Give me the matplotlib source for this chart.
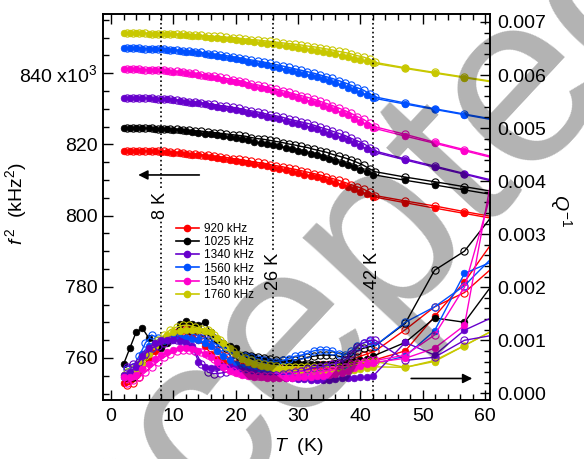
import numpy as np
import matplotlib
matplotlib.use('Agg')
import matplotlib.pyplot as plt
from matplotlib.lines import Line2D
from matplotlib.ticker import MultipleLocator, FormatStrFormatter, FuncFormatter

plt.rcParams['font.family'] = ['Liberation Sans', 'DejaVu Sans']
plt.rcParams['mathtext.fontset'] = 'custom'
plt.rcParams['mathtext.rm'] = 'Liberation Sans'
plt.rcParams['mathtext.it'] = 'Liberation Sans:italic'

# temperatures (K): dense scan every 1 K, then a few points every ~5 K
T_fill = list(range(2, 43)) + [47.2, 51.9, 56.7, 61.5]
T_open = [t + 0.5 for t in range(2, 42)] + [42.4, 47.2, 51.9, 56.7, 61.5]

labels = ['920 kHz', '1025 kHz', '1340 kHz', '1560 kHz', '1540 kHz', '1760 kHz']
colors = ['#ff0000', '#000000', '#6600cc', '#0050ff', '#ff00cc', '#c8c800']

# f^2 in 10^3 kHz^2, filled and open symbols
f2_red = [818.2, 818.2, 818.2, 818.1, 818.1, 818.0, 817.9, 817.8, 817.7, 817.5,
          817.3, 817.1, 816.9, 816.7, 816.4, 816.1, 815.9, 815.6, 815.4, 815.0,
          814.7, 814.4, 814.1, 813.8, 813.4, 813.0, 812.7, 812.3, 811.9, 811.5,
          811.1, 810.7, 810.2, 809.7, 809.2, 808.6, 808.0, 807.4, 806.7, 806.0, 805.3,
          803.6, 802.1, 800.6, 799.1]
f2_red_open = [818.2, 818.2, 818.2, 818.1, 818.1, 818.0, 818.0, 817.9, 817.8, 817.6,
               817.4, 817.3, 817.1, 816.9, 816.7, 816.5, 816.3, 816.0, 815.8, 815.5,
               815.2, 814.9, 814.7, 814.3, 814.0, 813.7, 813.3, 813.0, 812.6, 812.2,
               811.8, 811.4, 810.9, 810.4, 809.9, 809.3, 808.7, 808.1, 807.4, 806.5,
               805.6, 804.1, 802.7, 801.1, 799.6]
f2_black = [824.6, 824.6, 824.6, 824.5, 824.5, 824.4, 824.3, 824.2, 824.1, 823.9,
            823.7, 823.5, 823.3, 823.0, 822.8, 822.5, 822.2, 822.0, 821.7, 821.4,
            821.1, 820.7, 820.4, 820.1, 819.8, 819.4, 819.0, 818.6, 818.2, 817.8,
            817.4, 816.9, 816.5, 816.0, 815.4, 814.8, 814.3, 813.6, 812.9, 812.2, 811.5,
            809.9, 808.6, 807.2, 805.8]
f2_black_open = [824.6, 824.6, 824.6, 824.5, 824.5, 824.4, 824.4, 824.3, 824.3, 824.1,
                 823.9, 823.8, 823.7, 823.5, 823.3, 823.1, 822.9, 822.7, 822.5, 822.3,
                 821.9, 821.6, 821.4, 821.1, 820.8, 820.5, 820.1, 819.8, 819.4, 819.1,
                 818.6, 818.2, 817.8, 817.2, 816.7, 816.2, 815.6, 814.9, 814.1, 813.1,
                 812.3, 810.8, 809.5, 808.1, 806.7]
f2_purple = [833.0, 833.0, 833.0, 832.9, 832.9, 832.8, 832.7, 832.6, 832.4, 832.2,
             831.9, 831.7, 831.5, 831.2, 830.9, 830.6, 830.3, 830.0, 829.7, 829.3,
             828.9, 828.6, 828.2, 827.8, 827.4, 827.0, 826.5, 826.1, 825.6, 825.2,
             824.7, 824.2, 823.6, 823.0, 822.4, 821.8, 821.1, 820.3, 819.6, 818.7, 817.9,
             815.6, 813.6, 811.6, 809.5]
f2_purple_open = [833.0, 833.0, 833.0, 832.9, 832.9, 832.8, 832.8, 832.6, 832.5, 832.3,
                  832.0, 831.9, 831.7, 831.4, 831.2, 830.9, 830.7, 830.4, 830.1, 829.7,
                  829.4, 829.1, 828.7, 828.3, 828.0, 827.6, 827.1, 826.7, 826.3, 825.9,
                  825.4, 824.8, 824.3, 823.7, 823.1, 822.5, 821.7, 821.0, 820.2, 819.1,
                  818.1, 815.9, 813.9, 811.8, 809.8]
f2_blue = [847.0, 847.0, 847.0, 846.9, 846.9, 846.8, 846.7, 846.6, 846.4, 846.2,
           846.0, 845.8, 845.6, 845.3, 845.0, 844.8, 844.5, 844.2, 843.9, 843.6,
           843.2, 842.9, 842.5, 842.2, 841.8, 841.4, 841.0, 840.6, 840.1, 839.7,
           839.3, 838.8, 838.3, 837.8, 837.2, 836.6, 835.9, 835.2, 834.5, 833.8, 833.0,
           831.3, 829.8, 828.3, 826.8]
f2_blue_open = [847.0, 847.0, 847.0, 846.9, 846.9, 846.8, 846.8, 846.6, 846.5, 846.3,
                846.1, 846.0, 845.8, 845.5, 845.3, 845.1, 844.9, 844.6, 844.3, 844.0,
                843.7, 843.4, 843.1, 842.7, 842.4, 842.0, 841.6, 841.2, 840.8, 840.4,
                840.0, 839.5, 839.0, 838.5, 837.9, 837.3, 836.6, 835.9, 835.2, 834.2,
                833.3, 831.6, 830.0, 828.5, 827.0]
f2_magenta = [841.1, 841.1, 841.1, 841.0, 840.9, 840.9, 840.8, 840.6, 840.4, 840.2,
              839.9, 839.7, 839.5, 839.1, 838.8, 838.5, 838.1, 837.8, 837.5, 837.1,
              836.6, 836.2, 835.8, 835.4, 835.0, 834.5, 834.0, 833.5, 833.0, 832.5,
              832.0, 831.5, 830.9, 830.2, 829.6, 828.8, 828.1, 827.2, 826.4, 825.5, 824.6,
              822.3, 820.3, 818.2, 816.1]
f2_magenta_open = [841.1, 841.1, 841.1, 841.0, 840.9, 840.9, 840.8, 840.6, 840.5, 840.3,
                   840.0, 839.9, 839.6, 839.3, 839.1, 838.8, 838.5, 838.2, 837.9, 837.5,
                   837.0, 836.7, 836.3, 835.9, 835.5, 835.1, 834.6, 834.1, 833.7, 833.2,
                   832.7, 832.1, 831.5, 830.9, 830.2, 829.5, 828.7, 827.8, 827.0, 825.9,
                   824.9, 822.8, 820.6, 818.5, 816.4]
f2_yellow = [851.2, 851.2, 851.2, 851.2, 851.1, 851.1, 851.0, 850.9, 850.9, 850.7,
             850.6, 850.5, 850.4, 850.2, 850.0, 849.9, 849.7, 849.5, 849.4, 849.1,
             848.9, 848.7, 848.5, 848.3, 848.1, 847.8, 847.6, 847.3, 847.1, 846.8,
             846.6, 846.3, 846.0, 845.7, 845.3, 844.9, 844.6, 844.1, 843.7, 843.3, 842.8,
             841.3, 840.0, 838.7, 837.4]
f2_yellow_open = [851.2, 851.2, 851.2, 851.2, 851.1, 851.1, 851.0, 851.0, 851.0, 850.9,
                  850.8, 850.7, 850.6, 850.5, 850.3, 850.3, 850.1, 850.0, 849.8, 849.6,
                  849.4, 849.3, 849.1, 848.9, 848.7, 848.5, 848.3, 848.1, 847.9, 847.6,
                  847.4, 847.1, 846.8, 846.5, 846.1, 845.8, 845.4, 844.9, 844.5, 843.9,
                  843.0, 841.5, 840.2, 838.9, 837.6]

# Q^-1 in units of 10^-3
q_red = [0.20, 0.25, 0.35, 0.50, 0.65, 0.80, 0.90, 1.00, 1.08, 1.15,
         1.18, 1.10, 1.00, 0.90, 0.75, 0.65, 0.60, 0.60, 0.55, 0.50,
         0.48, 0.46, 0.45, 0.44, 0.43, 0.42, 0.42, 0.42, 0.43, 0.44,
         0.44, 0.45, 0.45, 0.46, 0.47, 0.48, 0.50, 0.55, 0.58, 0.60, 0.62,
         0.80, 1.45, 2.10, 2.90]
q_red_open = [0.15, 0.20, 0.30, 0.50, 0.70, 0.85, 0.95, 1.05, 1.15, 1.25,
              1.25, 1.20, 1.10, 1.00, 0.90, 0.80, 0.70, 0.62, 0.58, 0.55,
              0.52, 0.50, 0.50, 0.48, 0.48, 0.47, 0.47, 0.48, 0.50, 0.50,
              0.52, 0.53, 0.54, 0.55, 0.56, 0.58, 0.62, 0.68, 0.72, 0.76,
              0.80, 1.20, 1.63, 1.90, 2.40]
q_black = [0.55, 0.85, 1.15, 1.23, 1.05, 0.95, 0.85, 0.95, 1.05, 1.30,
           1.36, 1.30, 1.28, 1.35, 1.15, 1.00, 0.95, 0.90, 0.85, 0.72,
           0.70, 0.68, 0.65, 0.62, 0.60, 0.60, 0.58, 0.58, 0.57, 0.55,
           0.55, 0.56, 0.55, 0.55, 0.57, 0.56, 0.55, 0.60, 0.62, 0.65, 0.70,
           0.96, 1.42, 1.34, 2.10]
q_black_open = [0.30, 0.30, 0.45, 0.70, 0.85, 0.95, 1.00, 1.05, 1.10, 1.15,
                1.20, 1.20, 1.15, 1.10, 1.05, 0.95, 0.85, 0.75, 0.70, 0.72,
                0.70, 0.68, 0.66, 0.64, 0.62, 0.62, 0.62, 0.63, 0.65, 0.68,
                0.70, 0.72, 0.72, 0.72, 0.70, 0.68, 0.70, 0.80, 0.85, 0.88,
                0.90, 1.32, 2.32, 2.68, 3.40]
q_purple = [0.35, 0.40, 0.50, 0.70, 0.85, 0.95, 1.00, 1.00, 1.00, 0.98,
            0.95, 0.90, 0.60, 0.50, 0.48, 0.50, 0.52, 0.50, 0.45, 0.42,
            0.40, 0.38, 0.35, 0.33, 0.30, 0.30, 0.28, 0.28, 0.27, 0.27,
            0.26, 0.26, 0.26, 0.26, 0.27, 0.28, 0.28, 0.29, 0.30, 0.30, 0.32,
            0.96, 0.72, 1.19, 1.45]
q_purple_open = [0.50, 0.55, 0.60, 0.75, 0.85, 0.90, 0.95, 1.00, 1.00, 0.95,
                 0.90, 0.80, 0.55, 0.40, 0.37, 0.38, 0.40, 0.45, 0.45, 0.42,
                 0.40, 0.38, 0.36, 0.35, 0.35, 0.36, 0.38, 0.40, 0.42, 0.45,
                 0.48, 0.50, 0.52, 0.55, 0.58, 0.62, 0.75, 0.88, 0.95, 1.00,
                 1.00, 0.62, 0.68, 1.00, 1.10]
q_blue = [0.30, 0.35, 0.50, 0.75, 0.90, 0.95, 1.00, 1.02, 1.05, 1.05,
          1.05, 1.03, 1.00, 0.95, 0.90, 0.80, 0.70, 0.62, 0.55, 0.50,
          0.46, 0.44, 0.42, 0.40, 0.38, 0.37, 0.36, 0.36, 0.36, 0.37,
          0.38, 0.38, 0.38, 0.39, 0.40, 0.42, 0.45, 0.48, 0.50, 0.52, 0.55,
          0.70, 1.18, 2.26, 2.50]
q_blue_open = [0.45, 0.50, 0.70, 0.95, 1.10, 1.05, 1.00, 1.05, 1.10, 1.15,
               1.15, 1.10, 1.05, 1.00, 0.95, 0.88, 0.80, 0.75, 0.72, 0.70,
               0.68, 0.65, 0.62, 0.60, 0.60, 0.62, 0.65, 0.70, 0.72, 0.75,
               0.80, 0.82, 0.82, 0.80, 0.75, 0.72, 0.80, 0.90, 0.95, 0.98,
               0.90, 1.34, 1.63, 2.03, 2.60]
q_magenta = [0.30, 0.30, 0.35, 0.45, 0.55, 0.65, 0.72, 0.78, 0.82, 0.85,
             0.85, 0.83, 0.80, 0.75, 0.68, 0.60, 0.50, 0.42, 0.38, 0.35,
             0.33, 0.31, 0.30, 0.29, 0.28, 0.28, 0.28, 0.29, 0.30, 0.30,
             0.31, 0.32, 0.33, 0.34, 0.36, 0.38, 0.42, 0.48, 0.52, 0.55, 0.58,
             0.66, 0.85, 1.28, 4.35]
q_magenta_open = [0.20, 0.25, 0.30, 0.40, 0.50, 0.60, 0.68, 0.75, 0.80, 0.82,
                  0.82, 0.80, 0.78, 0.72, 0.65, 0.55, 0.48, 0.42, 0.38, 0.36,
                  0.34, 0.33, 0.32, 0.32, 0.32, 0.33, 0.34, 0.35, 0.36, 0.37,
                  0.38, 0.40, 0.42, 0.44, 0.46, 0.50, 0.55, 0.58, 0.60, 0.62,
                  0.62, 0.72, 1.10, 2.00, 4.00]
q_yellow = [0.35, 0.35, 0.40, 0.55, 0.75, 0.90, 1.00, 1.10, 1.15, 1.18,
            1.20, 1.20, 1.20, 1.18, 1.15, 1.05, 0.95, 0.85, 0.75, 0.65,
            0.60, 0.55, 0.52, 0.50, 0.48, 0.46, 0.45, 0.44, 0.43, 0.42,
            0.41, 0.40, 0.40, 0.40, 0.40, 0.40, 0.42, 0.44, 0.46, 0.48, 0.50,
            0.49, 0.60, 0.90, 1.20]
q_yellow_open = [0.40, 0.45, 0.55, 0.70, 0.85, 1.00, 1.10, 1.20, 1.25, 1.28,
                 1.28, 1.25, 1.22, 1.20, 1.10, 1.00, 0.90, 0.80, 0.72, 0.66,
                 0.62, 0.58, 0.55, 0.53, 0.52, 0.50, 0.50, 0.50, 0.50, 0.50,
                 0.50, 0.50, 0.50, 0.50, 0.50, 0.50, 0.52, 0.55, 0.58, 0.60,
                 0.60, 0.49, 0.62, 0.90, 1.20]

f2_fill = [f2_red, f2_black, f2_purple, f2_blue, f2_magenta, f2_yellow]
f2_open = [f2_red_open, f2_black_open, f2_purple_open, f2_blue_open, f2_magenta_open, f2_yellow_open]
q_fill = [q_red, q_black, q_blue, q_yellow, q_purple, q_magenta]
q_open = [q_red_open, q_black_open, q_blue_open, q_yellow_open, q_purple_open, q_magenta_open]
q_colors = [colors[0], colors[1], colors[3], colors[5], colors[2], colors[4]]

fig = plt.figure(figsize=(5.84, 4.59), dpi=100)
ax = fig.add_axes([0.1764, 0.1285, 0.6627, 0.841])
ax2 = ax.twinx()

for i in range(6):
    ax.plot(T_open, f2_open[i], '-o', color=colors[i], lw=1.0, ms=5.2, mfc='none', mew=0.8)
    ax.plot(T_fill, f2_fill[i], '-o', color=colors[i], lw=1.0, ms=4.8, mew=0.5)

for i in range(6):
    ax2.plot(T_open, np.array(q_open[i]) * 1e-3, '-o', color=q_colors[i], lw=1.0, ms=5.2, mfc='none', mew=0.8)
    ax2.plot(T_fill, np.array(q_fill[i]) * 1e-3, '-o', color=q_colors[i], lw=1.0, ms=4.8, mew=0.5)

for t in [8, 26, 42]:
    ax.axvline(t, color='k', ls=':', lw=1.2)
ax.text(8, 802.9, '8 K', rotation=90, ha='center', va='center', fontsize=13,
        bbox=dict(facecolor='white', edgecolor='none', pad=1))
ax.text(26, 784.3, '26 K', rotation=90, ha='center', va='center', fontsize=13,
        bbox=dict(facecolor='white', edgecolor='none', pad=1))
ax.text(42, 784.5, '42 K', rotation=90, ha='center', va='center', fontsize=13,
        bbox=dict(facecolor='white', edgecolor='none', pad=1))

ax.annotate('', xy=(3.9, 811.4), xytext=(14.6, 811.4),
            arrowprops=dict(arrowstyle='-|>', color='k', lw=1.2, mutation_scale=14))
ax2.annotate('', xy=(58.4, 0.28e-3), xytext=(47.7, 0.28e-3),
             arrowprops=dict(arrowstyle='-|>', color='k', lw=1.2, mutation_scale=14))

ax.set_xlim(-1.3, 60.8)
ax.set_ylim(748.2, 856.6)
ax2.set_ylim(-0.000126, 0.00715)

ax.xaxis.set_major_locator(MultipleLocator(10))
ax.xaxis.set_minor_locator(MultipleLocator(2))
ax.yaxis.set_major_locator(MultipleLocator(20))
ax.yaxis.set_minor_locator(MultipleLocator(5))
ax.yaxis.set_major_formatter(FuncFormatter(lambda v, p: '840 x10$^3$' if abs(v - 840) < 1 else '%d' % v))
ax2.yaxis.set_major_locator(MultipleLocator(0.001))
ax2.yaxis.set_minor_locator(MultipleLocator(0.0002))
ax2.yaxis.set_major_formatter(FormatStrFormatter('%.3f'))

ax.tick_params(axis='x', which='both', direction='in', top=True, labelsize=14, pad=6)
ax.tick_params(axis='y', which='both', direction='in', labelsize=14, pad=4)
ax2.tick_params(axis='y', which='both', direction='in', labelsize=14, pad=5)
ax.tick_params(which='major', length=7, width=1)
ax.tick_params(which='minor', length=4, width=1)
ax2.tick_params(which='major', length=7, width=1)
ax2.tick_params(which='minor', length=4, width=1)
for a in [ax, ax2]:
    for s in a.spines.values():
        s.set_linewidth(1.2)

ax.set_xlabel('$T$  (K)', fontsize=14)
ax.xaxis.set_label_coords(0.505, -0.094)
ax.set_ylabel('$f^{\\,2}$  (kHz$^2$)', fontsize=14)
ax.yaxis.set_label_coords(-0.19, 0.51)
ax2.set_ylabel('$Q^{-1}$', fontsize=14, rotation=-90)
ax2.yaxis.set_label_coords(1.216, 0.49)

handles = [Line2D([], [], color=c, marker='o', ms=4.5, lw=1.2) for c in colors]
ax2.legend(handles, labels, loc='upper left', bbox_to_anchor=(0.1875, 0.4585),
           frameon=False, fontsize=8.5, borderpad=0, handlelength=2.0,
           handletextpad=0.4, labelspacing=0.1, borderaxespad=0)

# journal watermark
fig.text(318 / 584, 1 - 318 / 459, 'Accepted', rotation=47, fontsize=175, color='k',
         alpha=0.3, ha='center', va='center', rotation_mode='anchor')

plt.savefig('out.png', dpi=100)
